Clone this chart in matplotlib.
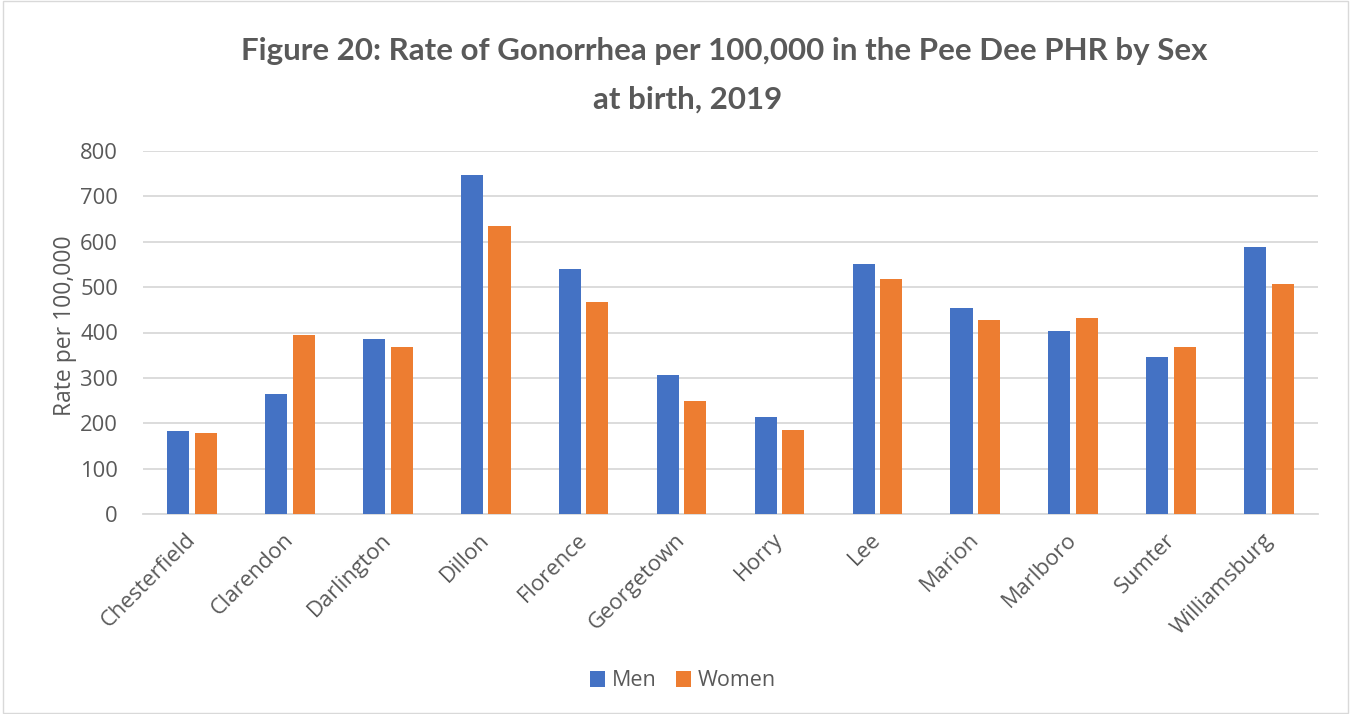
import numpy as np
import matplotlib.transforms as mtransforms
from matplotlib import pyplot as plt

counties = ['Chesterfield', 'Clarendon', 'Darlington', 'Dillon', 'Florence', 'Georgetown',
            'Horry', 'Lee', 'Marion', 'Marlboro', 'Sumter', 'Williamsburg']
men = [184, 265, 386, 748, 539, 306, 214, 552, 455, 403, 346, 589]
women = [179, 394, 368, 634, 467, 250, 186, 517, 427, 432, 369, 507]
yticks = [0, 100, 200, 300, 400, 500, 600, 700, 800]

plt.rcParams['font.family'] = ['Open Sans', 'DejaVu Sans']
grey = '#595959'
W, H = 1351, 714

fig = plt.figure(figsize=(W / 100, H / 100), dpi=100)
ax = fig.add_axes([143 / W, 1 - 514 / H, (1318 - 143) / W, (514 - 151) / H])

x = np.arange(len(counties))
w = 0.225
ax.bar(x - 0.141, men, w, color='#4472C4', label='Men', zorder=3)
ax.bar(x + 0.141, women, w, color='#ED7D31', label='Women', zorder=3)

ax.set_xlim(-0.5, len(counties) - 0.5)
ax.set_ylim(0, 800)
ax.set_yticks(yticks)
ax.set_yticklabels([str(t) for t in yticks], fontsize=15.8, color=grey)
ax.set_xticks(x)
ax.set_xticklabels(counties, rotation=45, ha='right', rotation_mode='anchor',
                   fontsize=15.8, color=grey)
ax.tick_params(length=0)
ax.tick_params(axis='y', pad=18)
ax.tick_params(axis='x', pad=11)
shift = mtransforms.ScaledTranslation(-7 / 100, 0, fig.dpi_scale_trans)
for lbl in ax.get_xticklabels():
    lbl.set_transform(lbl.get_transform() + shift)
ax.yaxis.grid(True, color='#d9d9d9', linewidth=1.3, zorder=0)
for s in ['top', 'right', 'left']:
    ax.spines[s].set_visible(False)
ax.spines['bottom'].set_color('#d9d9d9')
ax.spines['bottom'].set_linewidth(1.3)

ax.set_ylabel('Rate per 100,000', fontsize=16.5, color=grey)
ax.yaxis.set_label_coords(-0.056, 0.52)

fig.text(724 / W, 1 - 60 / H, 'Figure 20: Rate of Gonorrhea per 100,000 in the Pee Dee PHR by Sex',
         ha='center', va='baseline', fontsize=22.5, fontweight='bold', color=grey,
         family=['Lato', 'DejaVu Sans'])
fig.text(688 / W, 1 - 109 / H, 'at birth, 2019',
         ha='center', va='baseline', fontsize=22.5, fontweight='bold', color=grey,
         family=['Lato', 'DejaVu Sans'])

fig.legend(loc='center', bbox_to_anchor=(683 / W, 1 - 681 / H), ncol=2, frameon=False,
           fontsize=15.5, labelcolor=grey, handlelength=0.7, handleheight=0.7,
           handletextpad=0.3, columnspacing=0.9)

border = plt.Rectangle((0.002, 0.002), 0.996, 0.996, transform=fig.transFigure,
                       fill=False, edgecolor='#d9d9d9', linewidth=1)
fig.patches.append(border)

fig.savefig('out.png', dpi=100)
